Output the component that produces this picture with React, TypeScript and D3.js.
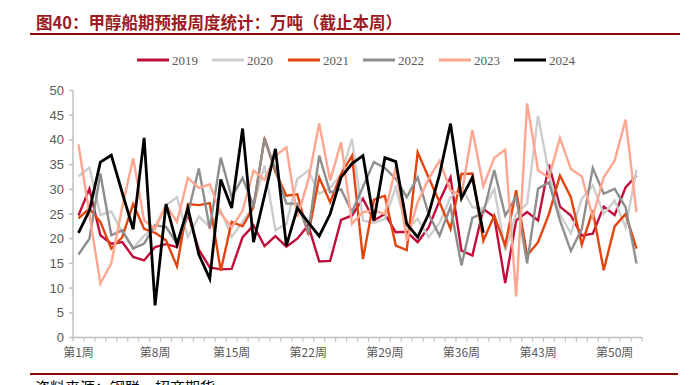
import React from "react";
import * as d3 from "d3";

const weeks: string[] = Array.from({ length: 52 }, (_, i) => `第${i + 1}周`);
const tickWeeks: string[] = ["第1周", "第8周", "第15周", "第22周", "第29周", "第36周", "第43周", "第50周"];
const yTicks: number[] = [0, 5, 10, 15, 20, 25, 30, 35, 40, 45, 50];

const s2019: number[] = [24.7, 30.1, 20.7, 19, 19.3, 16.3, 15.6, 18.3, 18.9, 18.3, 25, 17.8, 14.2, 13.8, 13.9, 20.3, 22.7, 18.5, 20.5, 18.4, 20, 22.7, 15.4, 15.5, 23.8, 24.7, 28.1, 23.7, 25, 21.3, 21.4, 19.3, 22.3, 27.7, 32.4, 17.6, 16.6, 26, 24.4, 11, 23.7, 25.4, 23.7, 35, 26.5, 24.7, 20.6, 21, 26.5, 24.8, 30.4, 32.8];
const s2020: number[] = [32.6, 34.4, 24.8, 25.5, 21.3, 18.1, 20.6, 22.5, 26.8, 28.4, 20.4, 24.5, 22.4, 25.7, 20.4, 23.4, 26.7, 34.8, 21.7, 23, 32.1, 33.8, 29.1, 30.3, 33, 40.2, 23.7, 23.2, 24, 30.4, 22, 24, 20.3, 23.2, 28.4, 30.4, 26.4, 26, 30.1, 17.6, 25, 27.1, 44.9, 33.1, 25, 21.1, 28.1, 30.8, 25, 27.7, 22.3, 33.9];
const s2021: number[] = [24.1, 26.1, 23.4, 18, 20.3, 27, 22, 21.2, 19.7, 14.4, 27, 26.8, 27.2, 13.5, 23.4, 22.5, 26.4, 40.4, 33.5, 28.7, 29, 20.8, 32.4, 27.4, 33.1, 36.8, 15.9, 27.9, 28.7, 18.6, 17.7, 37.5, 32.4, 27.4, 22, 33.1, 33.2, 19.6, 24.7, 18.6, 29.8, 16.6, 19.3, 25, 32.8, 28.4, 18.8, 25.7, 13.6, 22.5, 25, 18];
const s2022: number[] = [16.8, 20, 33.2, 20.7, 21.7, 18, 19, 22.7, 22.4, 19, 25.1, 34.2, 22, 36.4, 28.4, 32.3, 26.7, 40.1, 34.1, 27.1, 27.1, 21.3, 36.8, 29.4, 30, 25.4, 30.5, 35.5, 34.3, 32.1, 28.4, 32.4, 25, 20.6, 26.5, 14.6, 24.2, 25.2, 33.9, 24.7, 28.5, 15, 30.1, 31.4, 23.7, 17.5, 22, 34.3, 29.1, 30.1, 26.4, 15];
const s2023: number[] = [39.1, 25, 10.9, 15, 26.4, 36.3, 23.7, 22, 26.8, 23.4, 32.3, 30.3, 31, 25.1, 22.3, 25.7, 33.8, 31.9, 36.8, 38.5, 24.4, 31.8, 43.3, 31.8, 39.5, 23, 25.4, 25.7, 25, 34.5, 19.6, 27.4, 32.1, 35.8, 29.8, 28.7, 42, 30.6, 36.4, 38, 8.3, 47.4, 33.8, 32.4, 40.4, 34.1, 32.6, 24.4, 32.4, 35.8, 44.1, 25.4];
const s2024: number[] = [21.2, 25.7, 35.5, 36.9, 29.3, 21.9, 40.4, 6.5, 27, 18.9, 26.2, 16.8, 11.9, 32, 26.2, 42.3, 19.3, 28.7, 38.2, 18.6, 26.2, 23.3, 20.5, 25, 32.4, 35.2, 36.8, 23.7, 36.4, 35.6, 23, 20.3, 25, 33, 43.3, 28.2, 32.4, 21.2];

const seriesNames: string[] = ["2019", "2020", "2021", "2022", "2023", "2024"];
const seriesData: number[][] = [s2019, s2020, s2021, s2022, s2023, s2024];
const seriesColors: string[] = ["#C00D3A", "#CDCDCD", "#E2450F", "#8E8E8E", "#FFA68F", "#000000"];
const seriesWidths: number[] = [2.4, 2.4, 2.4, 2.4, 2.4, 2.8];

const W = 696;
const H = 385;
const left = 73;
const right = 642;
const top = 90.5;
const bottom = 337.5;

export default function App() {
  const x = d3.scaleBand<string>().domain(weeks).range([left, right]);
  const y = d3.scaleLinear().domain([0, 50]).range([bottom, top]);
  const line = d3
    .line<number>()
    .x((_, i) => (x(weeks[i]) as number) + x.bandwidth() / 2)
    .y((d) => y(d));

  const axisColor = "#BFBFBF";
  const labelColor = "#595959";
  const legendX = [137, 212, 288, 363, 439, 514];

  return (
    <svg
      width={W}
      height={H}
      style={{ position: "absolute", left: 0, top: 0, background: "#fff" }}
    >
      <text
        x={36}
        y={29}
        fill="#9B1B1E"
        fontSize={16.5}
        fontWeight="bold"
        fontFamily="'Noto Sans CJK SC', sans-serif"
      >
        图40：甲醇船期预报周度统计：万吨（截止本周）
      </text>
      <line x1={30} x2={680} y1={34} y2={34} stroke="#8B0A0A" strokeWidth={2} />

      {seriesNames.map((n, i) => (
        <g key={n}>
          <line
            x1={legendX[i]}
            x2={legendX[i] + 32}
            y1={60}
            y2={60}
            stroke={seriesColors[i]}
            strokeWidth={3}
          />
          <text
            x={legendX[i] + 35}
            y={64.5}
            fontSize={13}
            fill={labelColor}
            fontFamily="'Liberation Serif', 'DejaVu Serif', serif"
          >
            {n}
          </text>
        </g>
      ))}

      {/* y axis */}
      <line x1={left} x2={left} y1={y(50)} y2={y(0)} stroke={axisColor} strokeWidth={1.5} />
      {yTicks.map((t) => (
        <g key={t}>
          <line x1={left - 4} x2={left} y1={y(t)} y2={y(t)} stroke={axisColor} strokeWidth={1.5} />
          <text
            x={left - 9}
            y={y(t) + 4.5}
            textAnchor="end"
            fontSize={13}
            fill={labelColor}
            fontFamily="'Liberation Sans', Arial, sans-serif"
          >
            {t}
          </text>
        </g>
      ))}

      {/* x axis */}
      <line x1={left} x2={right} y1={bottom} y2={bottom} stroke={axisColor} strokeWidth={1.5} />
      {weeks.map((w) => (
        <line
          key={w}
          x1={(x(w) as number) + x.bandwidth()}
          x2={(x(w) as number) + x.bandwidth()}
          y1={bottom}
          y2={bottom + 4}
          stroke={axisColor}
          strokeWidth={1.2}
        />
      ))}
      <line x1={left} x2={left} y1={bottom} y2={bottom + 4} stroke={axisColor} strokeWidth={1.2} />
      {tickWeeks.map((w) => (
        <text
          key={w}
          x={(x(w) as number) + x.bandwidth() / 2}
          y={bottom + 19}
          textAnchor="middle"
          fontSize={12}
          fill={labelColor}
          fontFamily="'Noto Sans CJK SC', sans-serif"
        >
          {w}
        </text>
      ))}

      {seriesData.map((d, i) => (
        <path
          key={seriesNames[i]}
          d={line(d) || ""}
          fill="none"
          stroke={seriesColors[i]}
          strokeWidth={seriesWidths[i]}
          strokeLinejoin="miter"
        />
      ))}

      <line x1={30} x2={678} y1={374} y2={374} stroke="#8B0A0A" strokeWidth={2} />
      <text
        x={35}
        y={393}
        fontSize={15}
        fill="#000"
        fontFamily="'Noto Sans CJK SC', sans-serif"
      >
        资料来源：钢联，招商期货
      </text>
    </svg>
  );
}
